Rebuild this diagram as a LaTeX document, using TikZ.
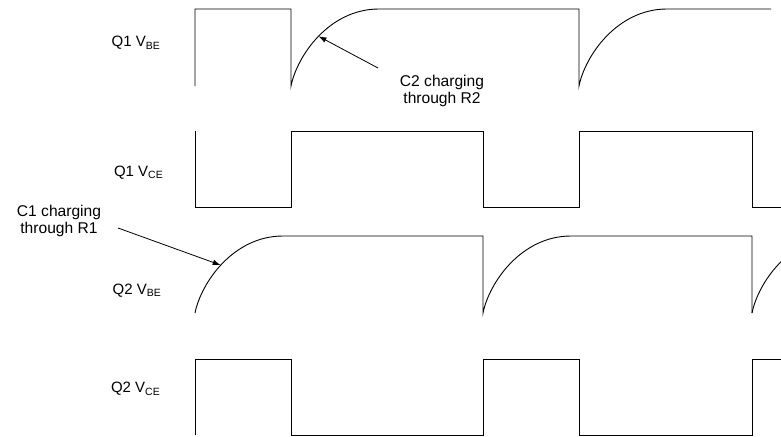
\documentclass[tikz,border=0pt]{standalone}
\usepackage{fontspec}
\setmainfont{Liberation Sans}
\usetikzlibrary{arrows.meta}
% subscript set lower and smaller than the signal letter
\newcommand\lowsub[1]{\raisebox{-2.5pt}{\fontsize{10.5}{12}\selectfont #1}}
\begin{document}
\begin{tikzpicture}[x=1pt,y=-1pt,
  wave/.style={line width=0.9pt, line join=miter},
  note/.style={font=\fontsize{15.6}{17.4}\selectfont, align=center, inner sep=0pt},
  sig/.style={font=\fontsize{15}{17}\selectfont, anchor=base east, inner sep=0pt},
  pointer/.style={line width=0.8pt, -{Latex[length=8pt,width=5.5pt]}}]
\useasboundingbox (0,0) rectangle (781,436);

% signal names
\node[sig] (q1be) at (160,46.5) {Q1 V\lowsub{BE}};
\node[sig] (q1ce) at (163,176) {Q1 V\lowsub{CE}};
\node[sig] (q2be) at (161,294) {Q2 V\lowsub{BE}};
\node[sig] (q2ce) at (160,392.5) {Q2 V\lowsub{CE}};

% Q1 base-emitter voltage
\draw[wave] (195,86) -- (195,9) -- (291,9) -- (291,86)
  .. controls (297,56) and (329,9) .. coordinate[pos=0.5] (c2tip) (379,9)
  -- (579,9) -- (579,86)
  .. controls (585,56) and (617,9) .. (667,9) -- (771,9);

% Q1 collector-emitter voltage
\draw[wave] (195,131) -- (195,207) -- (291,207) -- (291,131) -- (483,131)
  -- (483,207) -- (579,207) -- (579,131) -- (752,131) -- (752,207) -- (781,207);

% Q2 base-emitter voltage
\draw[wave] (195,313)
  .. controls (201,283) and (233,236) .. coordinate[pos=0.48] (c1tip) (283,236)
  -- (483,236) -- (483,313)
  .. controls (489,283) and (521,236) .. (571,236) -- (752,236) -- (752,313);
\begin{scope}
  \clip (0,0) rectangle (781,436);
  \draw[wave] (752,313) .. controls (758,283) and (790,236) .. (840,236);
\end{scope}

% Q2 collector-emitter voltage
\draw[wave] (195,435) -- (195,359) -- (291,359) -- (291,435) -- (483,435)
  -- (483,359) -- (579,359) -- (579,435) -- (752,435) -- (752,359) -- (781,359);

% annotations
\node[note] (c2note) at (442,91) {C2 charging\\through R2};
\node[note] (c1note) at (59,221) {C1 charging\\through R1};
\coordinate (c2tail) at (378,68);
\coordinate (c1tail) at (118,228);
\draw[pointer] (c2tail) -- (c2tip);
\draw[pointer] (c1tail) -- (c1tip);
\end{tikzpicture}
\end{document}
